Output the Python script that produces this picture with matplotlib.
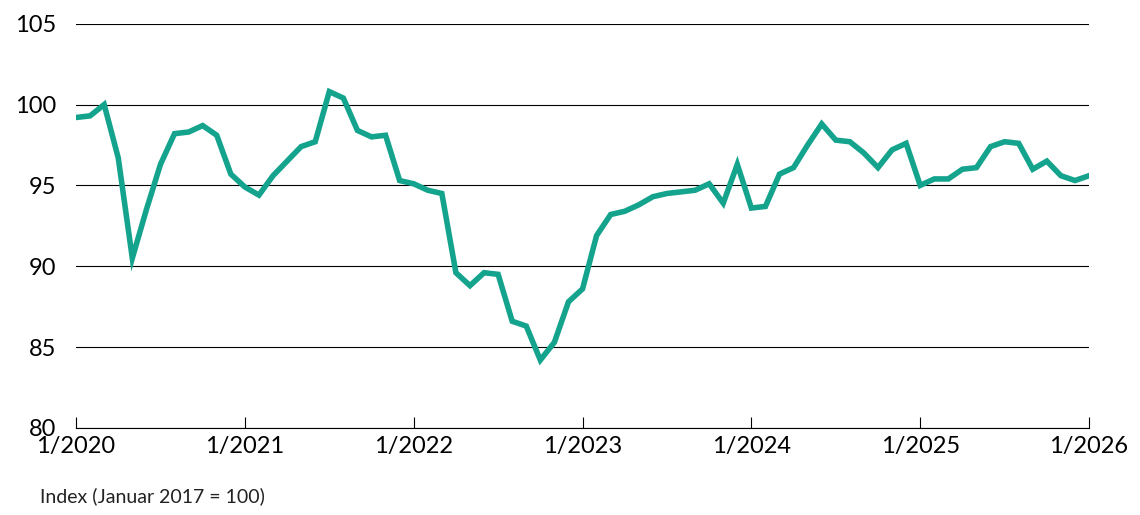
import matplotlib
matplotlib.use("Agg")
import matplotlib.pyplot as plt
import numpy as np

plt.rcParams['font.family'] = ['Lato', 'DejaVu Sans']

values = [99.2, 99.3, 100.0, 96.7, 90.5, 93.5, 96.3, 98.2, 98.3, 98.7, 98.1, 95.7,
          94.9, 94.4, 95.6, 96.5, 97.4, 97.7, 100.8, 100.4, 98.4, 98.0, 98.1, 95.3,
          95.1, 94.7, 94.5, 89.6, 88.8, 89.6, 89.5, 86.6, 86.3, 84.2, 85.3, 87.8,
          88.6, 91.9, 93.2, 93.4, 93.8, 94.3, 94.5, 94.6, 94.7, 95.1, 93.9, 96.3,
          93.6, 93.7, 95.7, 96.1, 97.5, 98.8, 97.8, 97.7, 97.0, 96.1, 97.2, 97.6,
          95.0, 95.4, 95.4, 96.0, 96.1, 97.4, 97.7, 97.6, 96.0, 96.5, 95.6, 95.3, 95.6]
tick_labels = ["1/2020", "1/2021", "1/2022", "1/2023", "1/2024", "1/2025", "1/2026"]
y_ticks = [80, 85, 90, 95, 100, 105]

fig = plt.figure(figsize=(11.4, 5.15), dpi=100)
ax = fig.add_axes([0.0667, 0.169, 0.8886, 0.785])
x = np.arange(len(values))
ax.plot(x, values, color="#14a38d", lw=4, solid_joinstyle="miter")
ax.set_xlim(0, 72)
ax.set_ylim(80, 105)
ax.set_yticks(y_ticks)
ax.set_xticks(np.arange(0, 73, 12))
ax.set_xticklabels(tick_labels)
ax.grid(axis='y', color='black', lw=0.8)
ax.set_axisbelow(True)
for s in ['top', 'right', 'left']:
    ax.spines[s].set_visible(False)
ax.spines['bottom'].set_color('black')
ax.tick_params(axis='y', length=0, labelsize=17, pad=14)
ax.tick_params(axis='x', length=8, direction='in', labelsize=17, pad=6)
fig.text(0.035, 0.025, "Index (Januar 2017 = 100)", fontsize=14, color='#222222')
fig.savefig("out.png", dpi=100)
